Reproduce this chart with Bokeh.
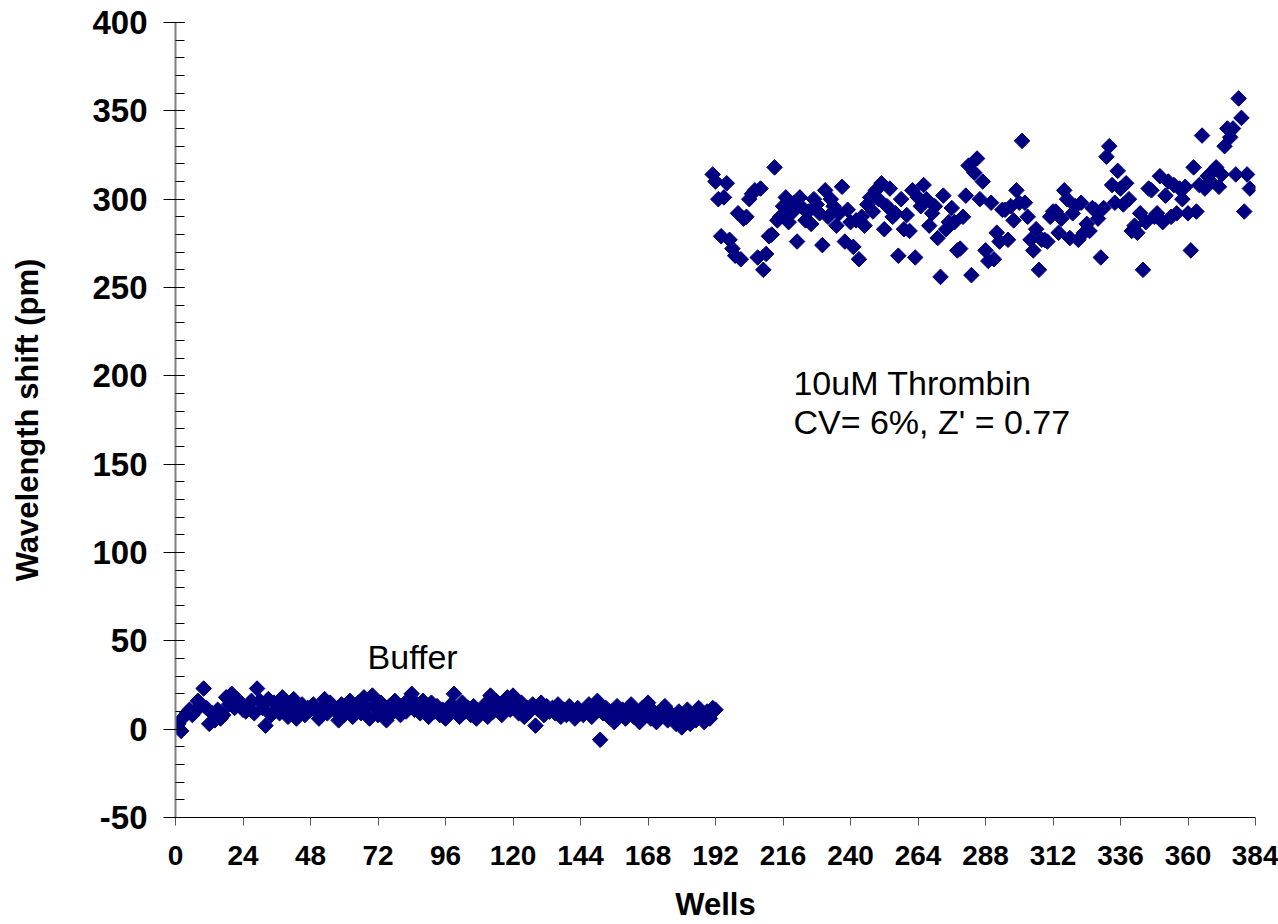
import math
from bokeh.plotting import figure
from bokeh.models import Range1d, FixedTicker, SingleIntervalTicker, Label, PrintfTickFormatter
from bokeh.embed import file_html
from bokeh.resources import INLINE

# ---------------- data ----------------
buffer_wells = list(range(1, 193))
buffer_shift = [
    3, -1, 7, 9, 11, 8, 10, 16, 14, 23, 12, 3, 9, 5, 11, 6, 8, 18, 14, 20, 12, 17, 13, 11,
    10, 14, 16, 9, 23, 16, 12, 2, 17, 8, 15, 11, 9, 18, 13, 7, 12, 17, 6, 10, 14, 8, 12, 11,
    14, 10, 6, 12, 17, 9, 15, 13, 10, 5, 14, 8, 12, 16, 7, 11, 15, 9, 18, 13, 6, 19, 12, 8,
    15, 10, 5, 13, 9, 16, 12, 8, 14, 10, 17, 20, 11, 14, 9, 16, 12, 7, 15, 10, 13, 8, 11, 6,
    9, 14, 20, 11, 7, 15, 10, 12, 8, 13, 6, 9, 11, 14, 7, 19, 10, 16, 12, 8, 15, 18, 11, 19,
    13, 9, 15, 7, 12, 10, 14, 2, 11, 15, 8, 13, 10, 12, 9, 14, 7, 11, 8, 13, 10, 6, 12, 9,
    8, 11, 14, 7, 10, 16, -6, 9, 12, 7, 10, 4, 13, 8, 11, 6, 9, 14, 7, 10, 4, 12, 8, 15,
    6, 10, 4, 8, 11, 13, 5, 9, 7, 3, 10, 1, 6, 11, 3, 8, 5, 12, 7, 4, 10, 6, 12, 11,
]

thrombin_wells = list(range(191, 383))
thrombin_shift = [
    314, 310, 300, 279, 301, 309, 277, 272, 268, 292, 266, 289, 290, 300, 303, 305, 267, 306, 260, 269, 279, 280, 318, 288,
    290, 296, 301, 287, 292, 298, 276, 301, 295, 288, 293, 286, 300, 297, 292, 274, 305, 290, 300, 296, 285, 292, 307, 276,
    294, 287, 273, 288, 266, 290, 285, 297, 301, 293, 305, 300, 309, 283, 296, 306, 290, 292, 268, 300, 283, 291, 282, 305,
    267, 301, 296, 308, 300, 285, 292, 296, 278, 256, 302, 283, 287, 295, 287, 271, 272, 290, 302, 319, 257, 315, 323, 300,
    310, 271, 265, 298, 266, 281, 276, 294, 294, 277, 296, 288, 305, 298, 333, 298, 290, 277, 271, 283, 260, 277, 277, 276,
    290, 293, 293, 281, 289, 305, 300, 278, 292, 296, 277, 298, 281, 286, 282, 295, 294, 289, 267, 295, 324, 330, 308, 298,
    316, 306, 297, 309, 300, 282, 285, 281, 292, 260, 287, 306, 305, 290, 292, 313, 287, 302, 310, 290, 308, 292, 306, 300,
    307, 292, 271, 318, 293, 308, 336, 306, 313, 310, 316, 318, 307, 314, 330, 340, 335, 340, 314, 357, 346, 293, 314, 306,
]

x_ticks = list(range(0, 385, 24))
y_min, y_max = -50, 400

# ---------------- figure ----------------
p = figure(width=1278, height=924, output_backend="svg", toolbar_location=None,
           x_range=Range1d(0, 384), y_range=Range1d(y_min, y_max),
           min_border_left=175, min_border_right=23, min_border_top=22, min_border_bottom=107)
p.outline_line_color = None
p.xgrid.grid_line_color = None
p.ygrid.grid_line_color = None
p.background_fill_color = "white"
p.border_fill_color = "white"

navy = "#000080"
p.scatter(buffer_wells, buffer_shift, marker="square", size=11, angle=math.pi / 4,
          fill_color=navy, line_color=navy)
p.scatter(thrombin_wells, thrombin_shift, marker="square", size=11, angle=math.pi / 4,
          fill_color=navy, line_color=navy)

font = "Liberation Sans"

# x axis
xa = p.xaxis[0]
xa.ticker = FixedTicker(ticks=x_ticks)
xa.formatter = PrintfTickFormatter(format="%d")
xa.axis_line_color = "black"
xa.axis_line_width = 1
xa.major_tick_line_color = "#555555"
xa.major_tick_out = 8
xa.major_tick_in = 0
xa.minor_tick_line_color = None
xa.major_label_text_font = font
xa.major_label_text_font_style = "bold"
xa.major_label_text_font_size = "28px"
xa.major_label_text_color = "black"
xa.major_label_standoff = 20
xa.axis_label = "Wells"
xa.axis_label_text_font = font
xa.axis_label_text_font_style = "bold"
xa.axis_label_text_font_size = "31px"
xa.axis_label_text_color = "black"
xa.axis_label_standoff = 19

# y axis
ya = p.yaxis[0]
ya.ticker = SingleIntervalTicker(interval=50, num_minor_ticks=5)
ya.formatter = PrintfTickFormatter(format="%d")
ya.axis_line_color = "#808080"
ya.axis_line_width = 2
ya.major_tick_line_color = "black"
ya.major_tick_out = 12
ya.major_tick_in = 9
ya.minor_tick_line_color = "black"
ya.minor_tick_out = 0
ya.minor_tick_in = 9
ya.major_label_text_font = font
ya.major_label_text_font_style = "bold"
ya.major_label_text_font_size = "33px"
ya.major_label_text_color = "black"
ya.major_label_standoff = 16
ya.axis_label = "Wavelength shift (pm)"
ya.axis_label_text_font = font
ya.axis_label_text_font_style = "bold"
ya.axis_label_text_font_size = "31px"
ya.axis_label_text_color = "black"
ya.axis_label_standoff = 44

# annotations
p.add_layout(Label(x=68.3, y=40.6, text="Buffer", text_font=font, text_font_size="34px",
                   text_color="black", text_baseline="alphabetic"))
p.add_layout(Label(x=219.7, y=195.7, text="10uM Thrombin", text_font=font, text_font_size="34px",
                   text_color="black", text_baseline="alphabetic"))
p.add_layout(Label(x=219.7, y=173.6, text="CV= 6%, Z' = 0.77", text_font=font, text_font_size="34px",
                   text_color="black", text_baseline="alphabetic"))

open("out.html", "w").write(file_html(p, INLINE))
